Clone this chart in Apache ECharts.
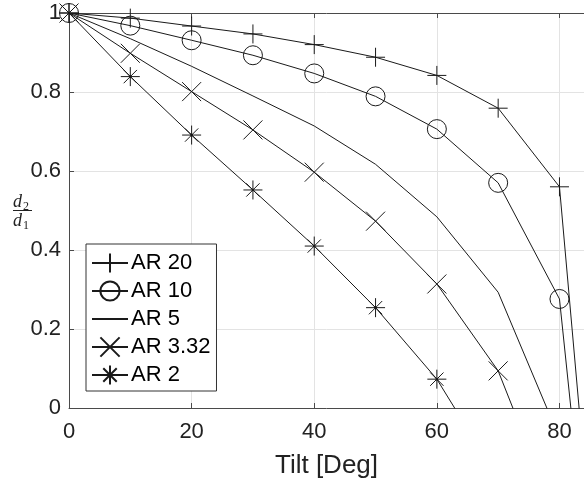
<!DOCTYPE html>
<html>
<head>
<meta charset="utf-8">
<script src="https://cdn.jsdelivr.net/npm/echarts@6/dist/echarts.min.js"></script>
<style>
	html, body { margin: 0; padding: 0; background: #fff; }
	#chart { width: 584px; height: 487px; }
</style>
</head>
<body>
<div id="chart"></div>
<script>
/**
 * 数据 (tilt 每10度一个点, 超出0以下的点被坐标轴裁掉)
 */
var tiltDeg = [0, 10, 20, 30, 40, 50, 60, 70, 80, 90];
var ar20 = [1, 0.987, 0.967, 0.947, 0.92, 0.888, 0.842, 0.759, 0.56, -1.19];
var ar10 = [1, 0.968, 0.931, 0.893, 0.847, 0.789, 0.706, 0.570, 0.276, -1.21];
var ar5 = [1, 0.935, 0.865, 0.79, 0.714, 0.617, 0.484, 0.293, -0.076];
var ar332 = [1, 0.898, 0.801, 0.704, 0.597, 0.473, 0.314, 0.094, -0.298];
var ar2 = [1, 0.839, 0.691, 0.552, 0.410, 0.254, 0.073, -0.179];
var seriesNames = ['AR 20', 'AR 10', 'AR 5', 'AR 3.32', 'AR 2'];
var xTicks = [0, 20, 40, 60, 80];

// matlab 风格的标记
var markPlus = 'path://M5,0L5,10M0,5L10,5';
var markCross = 'path://M0,0L10,10M0,10L10,0';
var markStar = 'path://M5,0L5,10M0,5L10,5M1.5,1.5L8.5,8.5M1.5,8.5L8.5,1.5M4.6,4.6L5.4,4.6L5.4,5.4L4.6,5.4Z';

function toPairs(vals) {
	var arr = [];
	for (var i = 0; i < vals.length; i++) {
		arr.push([tiltDeg[i], vals[i]]);
	}
	return arr;
}

function makeSeries(name, vals, symbol) {
	var noMark = symbol === 'none';
	return {
		name: name,
		type: 'line',
		data: toPairs(vals),
		clip: true,
		symbol: noMark ? 'circle' : symbol,
		symbolSize: 19,
		showSymbol: !noMark,
		silent: true,
		lineStyle: {color: '#1a1a1a', width: 1},
		itemStyle: {
			color: symbol === markStar ? '#1a1a1a' : 'transparent',
			borderColor: noMark ? 'transparent' : '#1a1a1a',
			borderWidth: noMark ? 0 : 1
		},
		emphasis: {disabled: true}
	};
}

var font = 'Liberation Sans, Arial, sans-serif';
var axisColor = '#4a4a4a';

var chart = echarts.init(document.getElementById('chart'));
var option = {
	animation: false,
	backgroundColor: '#fff',
	grid: {
		left: 69,
		top: 13,
		right: -2,
		bottom: 79
	},
	legend: {
		orient: 'vertical',
		left: 86,
		top: 244,
		data: seriesNames,
		selectedMode: false,
		itemWidth: 36,
		itemHeight: 24,
		itemGap: 6,
		padding: [8, 6, 5, 5],
		backgroundColor: '#fff',
		borderColor: '#333',
		borderWidth: 1,
		textStyle: {fontSize: 22, fontFamily: font, color: '#000', padding: [0, 0, 0, -2]}
	},
	xAxis: [
		{
			type: 'value',
			min: 0,
			max: 84,
			interval: 20,
			name: 'Tilt [Deg]',
			nameLocation: 'middle',
			nameGap: 45,
			nameTextStyle: {fontSize: 26, fontFamily: font, color: '#222'},
			axisLine: {show: true, onZero: false, lineStyle: {color: axisColor, width: 1}},
			axisTick: {show: true, inside: true, length: 5, lineStyle: {color: axisColor}},
			axisLabel: {
				fontSize: 22, fontFamily: font, color: '#222', margin: 13, showMaxLabel: false,
				formatter: function (v) { return v % 20 === 0 ? String(v) : ''; }
			},
			splitLine: {show: true, lineStyle: {color: '#e3e3e3', width: 1}}
		},
		{
			// 上边框
			type: 'value',
			position: 'top',
			min: 0,
			max: 84,
			interval: 20,
			axisLine: {show: true, onZero: false, lineStyle: {color: axisColor, width: 1}},
			axisTick: {show: true, inside: true, length: 5, lineStyle: {color: axisColor}},
			axisLabel: {show: false},
			splitLine: {show: false}
		}
	],
	yAxis: {
		type: 'value',
		min: 0,
		max: 1,
		interval: 0.2,
		axisLine: {show: true, onZero: false, lineStyle: {color: axisColor, width: 1}},
		axisTick: {show: true, inside: true, length: 5, lineStyle: {color: axisColor}},
		axisLabel: {fontSize: 22, fontFamily: font, color: '#222', margin: 8},
		splitLine: {show: true, lineStyle: {color: '#e3e3e3', width: 1}}
	},
	// y 轴标题 d2/d1 (分数形式)
	graphic: [
		{type: 'text', left: 13, top: 193, style: {text: 'd', font: 'italic 18px Liberation Serif', fill: '#222'}},
		{type: 'text', left: 23, top: 201, style: {text: '2', font: '12px Liberation Serif', fill: '#222'}},
		{type: 'line', shape: {x1: 13, y1: 210.5, x2: 32, y2: 210.5}, style: {stroke: '#222', lineWidth: 1}},
		{type: 'text', left: 13, top: 212, style: {text: 'd', font: 'italic 18px Liberation Serif', fill: '#222'}},
		{type: 'text', left: 23, top: 220, style: {text: '1', font: '12px Liberation Serif', fill: '#222'}}
	],
	series: [
		makeSeries(seriesNames[0], ar20, markPlus),
		makeSeries(seriesNames[1], ar10, 'circle'),
		makeSeries(seriesNames[2], ar5, 'none'),
		makeSeries(seriesNames[3], ar332, markCross),
		makeSeries(seriesNames[4], ar2, markStar)
	]
};
chart.setOption(option);
</script>
</body>
</html>
